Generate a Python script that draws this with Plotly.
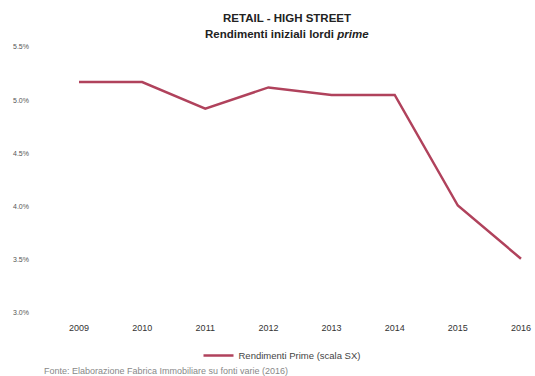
import plotly.graph_objects as go

years = [2009, 2010, 2011, 2012, 2013, 2014, 2015, 2016]
rendimenti = [5.17, 5.17, 4.92, 5.12, 5.05, 5.05, 4.01, 3.51]
y_ticks = [3.0, 3.5, 4.0, 4.5, 5.0, 5.5]
y_tick_labels = ["3.0%", "3.5%", "4.0%", "4.5%", "5.0%", "5.5%"]
series_name = "Rendimenti Prime (scala SX)"
title_line1 = "RETAIL - HIGH STREET"
title_line2 = "Rendimenti iniziali lordi <i>prime</i>"
source_text = "Fonte: Elaborazione Fabrica Immobiliare su fonti varie (2016)"

ML, MR, MT, MB = 35, 0, 47, 63
W, H = 535, 376
plot_w = W - ML - MR
plot_h = H - MT - MB

def px_to_paper(px, py):
    return (px - ML) / plot_w, (H - MB - py) / plot_h

fig = go.Figure()
fig.add_trace(go.Scatter(
    x=years, y=rendimenti, mode="lines", name=series_name,
    line=dict(color="#b0425c", width=2.5),
))

lx, ly = px_to_paper(282, 341)

fig.update_layout(
    width=W, height=H,
    margin=dict(l=ML, r=MR, t=MT, b=MB),
    paper_bgcolor="white", plot_bgcolor="white",
    font=dict(family="Liberation Sans, Arial, sans-serif", color="#333"),
    showlegend=True,
    legend=dict(orientation="h", x=lx, xanchor="center", y=ly, yanchor="top",
                font=dict(size=9.5, color="#444"), itemwidth=30),
    xaxis=dict(range=[2008.303, 2016.222], tickmode="array", tickvals=years,
               ticktext=[str(y) for y in years], showgrid=False, zeroline=False,
               showline=False, ticks="", tickfont=dict(size=9, color="#333"),
               ticklabelstandoff=8),
    yaxis=dict(range=[3.0, 5.5], tickmode="array", tickvals=y_ticks,
               ticktext=y_tick_labels, showgrid=False, zeroline=False,
               showline=False, ticks="", tickfont=dict(size=7, color="#555"),
               ticklabelstandoff=5),
)

ann_specs = [
    ("<b>" + title_line1 + "</b>", 287, 18, 11.5, "#222"),
    ("<b>" + title_line2 + "</b>", 287, 34, 11.5, "#222"),
    (source_text, 166, 371, 9, "#888"),
]
for text, px, py, size, color in ann_specs:
    xp, yp = px_to_paper(px, py)
    fig.add_annotation(text=text, x=xp, y=yp, xref="paper", yref="paper",
                       xanchor="center", yanchor="middle", showarrow=False,
                       font=dict(size=size, color=color))

fig.write_html("out.html")
